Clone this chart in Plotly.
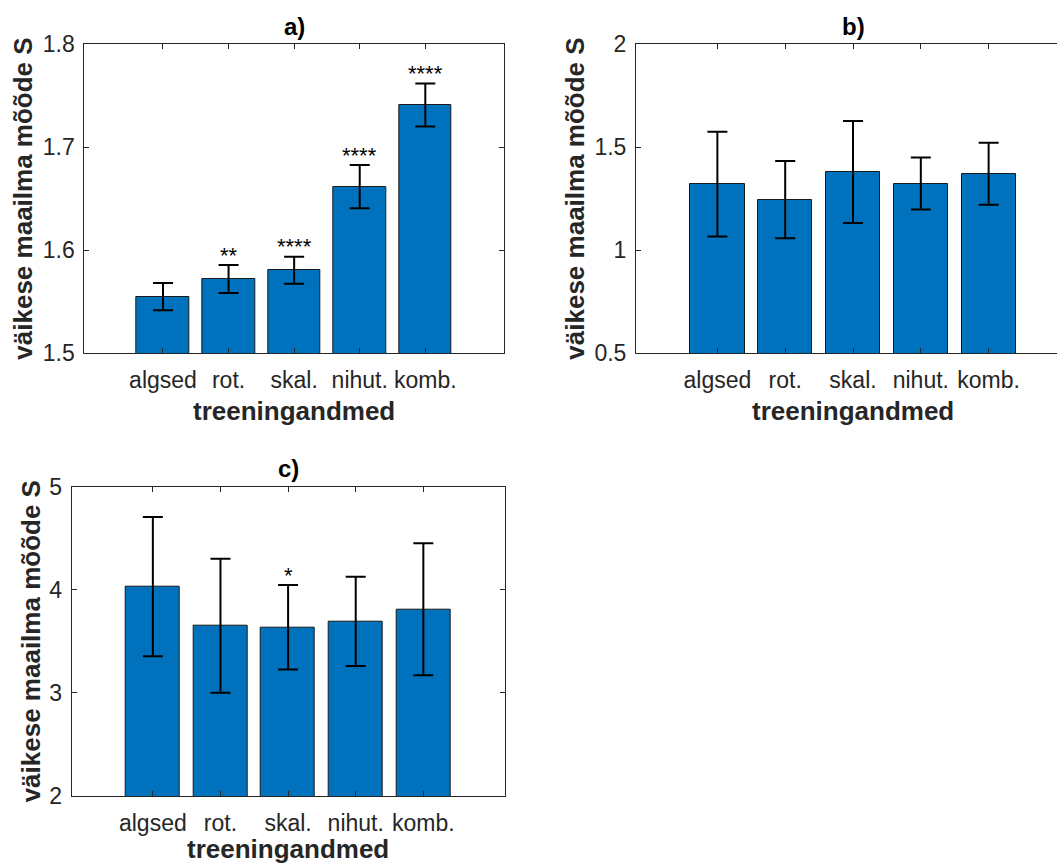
import plotly.graph_objects as go

# ---- data ----
categories = ["algsed", "rot.", "skal.", "nihut.", "komb."]

means_a = [1.555, 1.572, 1.5805, 1.6616, 1.7408]
err_a = [0.0133, 0.0136, 0.0131, 0.0210, 0.0208]
stars_a = ["", "**", "****", "****", "****"]

means_b = [1.320, 1.245, 1.379, 1.323, 1.371]
err_b = [0.254, 0.187, 0.247, 0.126, 0.150]
stars_b = ["", "", "", "", ""]

means_c = [4.030, 3.652, 3.636, 3.694, 3.811]
err_c = [0.675, 0.650, 0.410, 0.433, 0.640]
stars_c = ["", "", "*", "", ""]

titles = ["a)", "b)", "c)"]
y_ranges = [[1.5, 1.8], [0.5, 2.0], [2.0, 5.0]]
y_tickvals = [[1.5, 1.6, 1.7, 1.8], [0.5, 1.0, 1.5, 2.0], [2, 3, 4, 5]]
y_ticktext = [["1.5", "1.6", "1.7", "1.8"], ["0.5", "1", "1.5", "2"], ["2", "3", "4", "5"]]
x_label = "treeningandmed"
y_label = "väikese maailma mõõde S"

# ---- style / layout ----
W, H = 1057, 866
FONT = "Liberation Sans, Arial, Helvetica, sans-serif"
BAR = "#0072BD"
AX = "#262626"

# panel boxes in px: left, right, top, bottom
boxes = [
    (84.3, 504.0, 44.0, 353.3),
    (636.0, 1070.0, 44.0, 353.3),
    (71.7, 504.5, 486.7, 796.0),
]
ylabel_x = [23, 575, 31]

panels = [
    (means_a, err_a, stars_a),
    (means_b, err_b, stars_b),
    (means_c, err_c, stars_c),
]

fig = go.Figure()
annotations = []

for i, ((means, errs, stars), (l, r, t, b)) in enumerate(zip(panels, boxes)):
    n = i + 1
    xa = "x" if n == 1 else f"x{n}"
    ya = "y" if n == 1 else f"y{n}"
    fig.add_trace(go.Bar(
        x=categories, y=means, width=0.8,
        marker=dict(color=BAR, line=dict(color="#1a1a1a", width=1)),
        error_y=dict(type="data", array=errs, visible=True,
                     color="black", thickness=2, width=10),
        xaxis=xa, yaxis=ya, showlegend=False,
    ))

    # axis domains
    x0 = l / W
    x1 = min(r, W) / W
    unit = (r - l) / 6.4
    xr_max = -1.2 + (min(r, W) - l) / unit
    y0 = 1 - b / H
    y1 = 1 - t / H
    tickfont = dict(family=FONT, size=23, color=AX)
    xkey = "xaxis" if n == 1 else f"xaxis{n}"
    ykey = "yaxis" if n == 1 else f"yaxis{n}"
    fig.update_layout(**{
        xkey: dict(domain=[x0, x1], anchor=ya, type="category",
                   range=[-1.2, xr_max], showline=True, linecolor=AX, linewidth=1,
                   mirror="ticks", ticks="inside", ticklen=5, tickcolor=AX,
                   tickwidth=1, showgrid=False, zeroline=False, tickfont=tickfont,
                   ticklabelstandoff=6, automargin=False),
        ykey: dict(domain=[y0, y1], anchor=xa, range=y_ranges[i],
                   tickvals=y_tickvals[i], ticktext=y_ticktext[i],
                   showline=True, linecolor=AX, linewidth=1,
                   mirror=("ticks" if r <= W else False), ticks="inside",
                   ticklen=5, tickcolor=AX, tickwidth=1, showgrid=False,
                   zeroline=False, tickfont=tickfont, ticklabelstandoff=4,
                   automargin=False),
    })

    cx = (l + r) / 2 / W
    # title
    annotations.append(dict(text=f"<b>{titles[i]}</b>", x=cx, y=1 - (t - 18) / H,
                            xref="paper", yref="paper", xanchor="center",
                            yanchor="middle", showarrow=False,
                            font=dict(family=FONT, size=24, color="black")))
    # x label (kept fully inside the page for the bottom panel)
    if b + 58 + 17 > H:
        xl = dict(y=0, yanchor="bottom")
    else:
        xl = dict(y=1 - (b + 58) / H, yanchor="middle")
    annotations.append(dict(text=f"<b>{x_label}</b>", x=cx,
                            xref="paper", yref="paper", xanchor="center",
                            showarrow=False,
                            font=dict(family=FONT, size=26, color=AX), **xl))
    # y label
    annotations.append(dict(text=f"<b>{y_label}</b>", x=ylabel_x[i] / W,
                            y=1 - (t + b) / 2 / H, xref="paper", yref="paper",
                            xanchor="center", yanchor="middle", textangle=-90,
                            showarrow=False,
                            font=dict(family=FONT, size=26, color=AX)))
    # significance stars
    for cat, m, e, s in zip(categories, means, errs, stars):
        if s:
            annotations.append(dict(text=s, x=cat, y=m + e, xref=xa, yref=ya,
                                    xanchor="center", yanchor="middle",
                                    yshift=10, showarrow=False,
                                    font=dict(family=FONT, size=22, color="black")))

fig.update_layout(
    width=W, height=H, margin=dict(l=0, r=0, t=0, b=0, autoexpand=False),
    paper_bgcolor="white", plot_bgcolor="white",
    annotations=annotations, bargap=0,
)

fig.write_html("out.html")
